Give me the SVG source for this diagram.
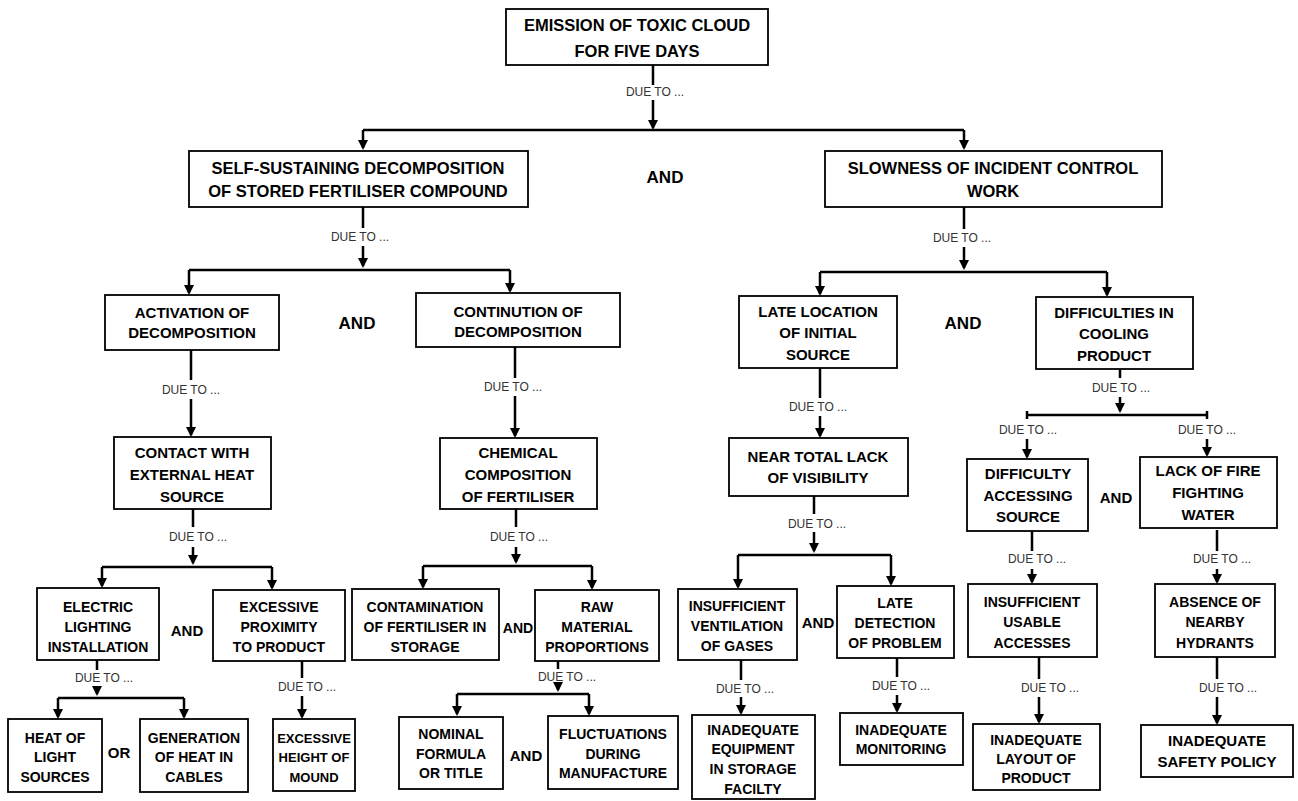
<svg xmlns="http://www.w3.org/2000/svg" width="1298" height="801" viewBox="0 0 1298 801">
<style>
.box rect{fill:#fff;stroke:#000;stroke-width:1.8}
.box text{font-family:"Liberation Sans",Arial,sans-serif;font-weight:bold;fill:#000;text-anchor:middle}
.f16{font-size:16.5px}
.f15{font-size:15px}
.f14{font-size:14px}
.f13{font-size:13px}
.conn path{fill:none;stroke:#000;stroke-width:2.5}
.conn path.arr{marker-end:url(#ah)}
.due{font-family:"Liberation Sans",Arial,sans-serif;font-size:12px;fill:#333;text-anchor:middle}
.and{font-family:"Liberation Sans",Arial,sans-serif;font-weight:bold;font-size:15px;fill:#000;text-anchor:middle}
</style>
<defs>
<marker id="ah" viewBox="0 0 10 10" refX="8" refY="5" markerWidth="10" markerHeight="10" markerUnits="userSpaceOnUse" orient="auto">
<path d="M0,0 L10,5 L0,10 z" fill="#000"/>
</marker>
</defs>
<rect width="1298" height="801" fill="#fff"/>

<g class="conn" id="connectors">
<path class="arr" d="M653,65 V85 M653,100 V128"/>
<path d="M363,130 H964"/>
<path class="arr" d="M363,130 V148"/>
<path class="arr" d="M964,130 V148"/>

<path class="arr" d="M363,207 V228 M363,246 V266"/>
<path d="M189,270 H510"/>
<path class="arr" d="M189,270 V293"/>
<path class="arr" d="M510,270 V291"/>

<path class="arr" d="M964,207 V229 M964,247 V268"/>
<path d="M820,272 H1107"/>
<path class="arr" d="M820,272 V294"/>
<path class="arr" d="M1107,272 V295"/>

<path class="arr" d="M191,350 V380 M191,399 V435"/>
<path class="arr" d="M193,509 V527 M193,547 V563"/>
<path d="M102,567 H272"/>
<path class="arr" d="M102,567 V586"/>
<path class="arr" d="M272,567 V588"/>

<path class="arr" d="M515,347 V378 M515,396 V436"/>
<path class="arr" d="M516,509 V527 M516,547 V562"/>
<path d="M423,566 H592"/>
<path class="arr" d="M423,566 V587"/>
<path class="arr" d="M592,566 V588"/>

<path class="arr" d="M820,368 V398 M820,416 V436"/>
<path class="arr" d="M814,496 V514 M814,532 V551"/>
<path d="M738,555 H891"/>
<path class="arr" d="M738,555 V587"/>
<path class="arr" d="M891,555 V584"/>

<path class="arr" d="M1120,369 V378 M1120,397 V411"/>
<path d="M1027,415 H1207 M1027,411 V419 M1207,411 V419"/>
<path class="arr" d="M1027,439 V457"/>
<path class="arr" d="M1207,439 V455"/>

<path class="arr" d="M1032,531 V551 M1032,569 V582"/>
<path class="arr" d="M1217,530 V551 M1217,569 V582"/>

<path class="arr" d="M97,660 V670 M97,687 V694"/>
<path d="M58,698 H184"/>
<path class="arr" d="M58,698 V717"/>
<path class="arr" d="M184,698 V717"/>

<path class="arr" d="M302,661 V678 M302,696 V717"/>

<path class="arr" d="M558,661 V669 M558,686 V690"/>
<path d="M457,694 H589"/>
<path class="arr" d="M457,694 V714"/>
<path class="arr" d="M589,694 V714"/>

<path class="arr" d="M741,660 V680 M741,697 V713"/>
<path class="arr" d="M897,658 V677 M897,695 V711"/>
<path class="arr" d="M1039,657 V679 M1039,697 V722"/>
<path class="arr" d="M1217,657 V679 M1217,697 V723"/>

<text class="due" x="655" y="96">DUE TO ...</text>
<text class="due" x="360" y="241">DUE TO ...</text>
<text class="due" x="962" y="242">DUE TO ...</text>
<text class="due" x="191" y="394">DUE TO ...</text>
<text class="due" x="198" y="541">DUE TO ...</text>
<text class="due" x="513" y="391">DUE TO ...</text>
<text class="due" x="519" y="541">DUE TO ...</text>
<text class="due" x="818" y="411">DUE TO ...</text>
<text class="due" x="817" y="528">DUE TO ...</text>
<text class="due" x="1121" y="392">DUE TO ...</text>
<text class="due" x="1028" y="434">DUE TO ...</text>
<text class="due" x="1207" y="434">DUE TO ...</text>
<text class="due" x="1037" y="563">DUE TO ...</text>
<text class="due" x="1222" y="563">DUE TO ...</text>
<text class="due" x="104" y="682">DUE TO ...</text>
<text class="due" x="307" y="691">DUE TO ...</text>
<text class="due" x="567" y="681">DUE TO ...</text>
<text class="due" x="745" y="693">DUE TO ...</text>
<text class="due" x="901" y="690">DUE TO ...</text>
<text class="due" x="1050" y="692">DUE TO ...</text>
<text class="due" x="1228" y="692">DUE TO ...</text>

<text class="and" x="665" y="183" style="font-size:17px">AND</text>
<text class="and" x="357" y="329" style="font-size:17px">AND</text>
<text class="and" x="963" y="329" style="font-size:17px">AND</text>
<text class="and" x="1116" y="503">AND</text>
<text class="and" x="187" y="636">AND</text>
<text class="and" x="119" y="758">OR</text>
<text class="and" x="518" y="633" style="font-size:14px">AND</text>
<text class="and" x="526" y="761">AND</text>
<text class="and" x="818" y="628">AND</text>
</g>

<g class="box" id="n-emission">
<rect x="506" y="9" width="262" height="56"/>
<text class="f16"><tspan x="637" y="31">EMISSION OF TOXIC CLOUD</tspan><tspan x="637" y="57">FOR FIVE DAYS</tspan></text>
</g>
<g class="box" id="n-selfsustaining">
<rect x="189" y="151" width="339" height="56"/>
<text class="f16"><tspan x="358" y="174">SELF-SUSTAINING DECOMPOSITION</tspan><tspan x="358" y="197">OF STORED FERTILISER COMPOUND</tspan></text>
</g>
<g class="box" id="n-slowness">
<rect x="825" y="151" width="337" height="56"/>
<text class="f16"><tspan x="993" y="174">SLOWNESS OF INCIDENT CONTROL</tspan><tspan x="993" y="197">WORK</tspan></text>
</g>
<g class="box" id="n-activation">
<rect x="105" y="295" width="174" height="55"/>
<text class="f15"><tspan x="192" y="318">ACTIVATION OF</tspan><tspan x="192" y="338">DECOMPOSITION</tspan></text>
</g>
<g class="box" id="n-continution">
<rect x="416" y="293" width="204" height="54"/>
<text class="f15"><tspan x="518" y="317">CONTINUTION OF</tspan><tspan x="518" y="337">DECOMPOSITION</tspan></text>
</g>
<g class="box" id="n-latelocation">
<rect x="739" y="296" width="158" height="72"/>
<text class="f15"><tspan x="818" y="317">LATE LOCATION</tspan><tspan x="818" y="338">OF INITIAL</tspan><tspan x="818" y="360">SOURCE</tspan></text>
</g>
<g class="box" id="n-difficulties">
<rect x="1036" y="297" width="157" height="72"/>
<text class="f15"><tspan x="1114" y="318">DIFFICULTIES IN</tspan><tspan x="1114" y="339">COOLING</tspan><tspan x="1114" y="361">PRODUCT</tspan></text>
</g>
<g class="box" id="n-contact">
<rect x="114" y="437" width="157" height="72"/>
<text class="f15"><tspan x="192" y="458">CONTACT WITH</tspan><tspan x="192" y="480">EXTERNAL HEAT</tspan><tspan x="192" y="502">SOURCE</tspan></text>
</g>
<g class="box" id="n-chemical">
<rect x="440" y="438" width="157" height="71"/>
<text class="f15"><tspan x="518" y="458">CHEMICAL</tspan><tspan x="518" y="480">COMPOSITION</tspan><tspan x="518" y="502">OF FERTILISER</tspan></text>
</g>
<g class="box" id="n-neartotal">
<rect x="729" y="438" width="179" height="58"/>
<text class="f15"><tspan x="818" y="462">NEAR TOTAL LACK</tspan><tspan x="818" y="483">OF VISIBILITY</tspan></text>
</g>
<g class="box" id="n-difficultyaccess">
<rect x="967" y="459" width="121" height="72"/>
<text class="f15"><tspan x="1028" y="479">DIFFICULTY</tspan><tspan x="1028" y="501">ACCESSING</tspan><tspan x="1028" y="522">SOURCE</tspan></text>
</g>
<g class="box" id="n-lackwater">
<rect x="1140" y="457" width="137" height="71"/>
<text class="f15"><tspan x="1208" y="476">LACK OF FIRE</tspan><tspan x="1208" y="498">FIGHTING</tspan><tspan x="1208" y="520">WATER</tspan></text>
</g>
<g class="box" id="n-electric">
<rect x="37" y="588" width="122" height="72"/>
<text class="f14"><tspan x="98" y="612">ELECTRIC</tspan><tspan x="98" y="632">LIGHTING</tspan><tspan x="98" y="652">INSTALLATION</tspan></text>
</g>
<g class="box" id="n-proximity">
<rect x="213" y="590" width="132" height="71"/>
<text class="f14"><tspan x="279" y="612">EXCESSIVE</tspan><tspan x="279" y="632">PROXIMITY</tspan><tspan x="279" y="652">TO PRODUCT</tspan></text>
</g>
<g class="box" id="n-contamination">
<rect x="352" y="589" width="147" height="71"/>
<text class="f14"><tspan x="425" y="612">CONTAMINATION</tspan><tspan x="425" y="632">OF FERTILISER IN</tspan><tspan x="425" y="652">STORAGE</tspan></text>
</g>
<g class="box" id="n-raw">
<rect x="535" y="590" width="124" height="71"/>
<text class="f14"><tspan x="597" y="612">RAW</tspan><tspan x="597" y="632">MATERIAL</tspan><tspan x="597" y="652">PROPORTIONS</tspan></text>
</g>
<g class="box" id="n-ventilation">
<rect x="678" y="589" width="119" height="71"/>
<text class="f14"><tspan x="737" y="611">INSUFFICIENT</tspan><tspan x="737" y="631">VENTILATION</tspan><tspan x="737" y="651">OF GASES</tspan></text>
</g>
<g class="box" id="n-latedetection">
<rect x="837" y="586" width="117" height="72"/>
<text class="f14"><tspan x="895" y="608">LATE</tspan><tspan x="895" y="628">DETECTION</tspan><tspan x="895" y="648">OF PROBLEM</tspan></text>
</g>
<g class="box" id="n-accesses">
<rect x="968" y="584" width="129" height="73"/>
<text class="f14"><tspan x="1032" y="607">INSUFFICIENT</tspan><tspan x="1032" y="627">USABLE</tspan><tspan x="1032" y="648">ACCESSES</tspan></text>
</g>
<g class="box" id="n-hydrants">
<rect x="1155" y="584" width="120" height="73"/>
<text class="f14"><tspan x="1215" y="607">ABSENCE OF</tspan><tspan x="1215" y="627">NEARBY</tspan><tspan x="1215" y="648">HYDRANTS</tspan></text>
</g>
<g class="box" id="n-heatlight">
<rect x="8" y="719" width="94" height="73"/>
<text class="f14"><tspan x="55" y="743">HEAT OF</tspan><tspan x="55" y="762">LIGHT</tspan><tspan x="55" y="782">SOURCES</tspan></text>
</g>
<g class="box" id="n-cables">
<rect x="140" y="719" width="108" height="73"/>
<text class="f14"><tspan x="194" y="743">GENERATION</tspan><tspan x="194" y="762">OF HEAT IN</tspan><tspan x="194" y="782">CABLES</tspan></text>
</g>
<g class="box" id="n-mound">
<rect x="273" y="719" width="82" height="72"/>
<text class="f13"><tspan x="314" y="743">EXCESSIVE</tspan><tspan x="314" y="762">HEIGHT OF</tspan><tspan x="314" y="782">MOUND</tspan></text>
</g>
<g class="box" id="n-nominal">
<rect x="399" y="717" width="104" height="72"/>
<text class="f14"><tspan x="451" y="739">NOMINAL</tspan><tspan x="451" y="759">FORMULA</tspan><tspan x="451" y="778">OR TITLE</tspan></text>
</g>
<g class="box" id="n-fluctuations">
<rect x="548" y="716" width="130" height="73"/>
<text class="f14"><tspan x="613" y="739">FLUCTUATIONS</tspan><tspan x="613" y="759">DURING</tspan><tspan x="613" y="778">MANUFACTURE</tspan></text>
</g>
<g class="box" id="n-equipment">
<rect x="692" y="715" width="123" height="84"/>
<text class="f14"><tspan x="753" y="735">INADEQUATE</tspan><tspan x="753" y="754">EQUIPMENT</tspan><tspan x="753" y="774">IN STORAGE</tspan><tspan x="753" y="794">FACILTY</tspan></text>
</g>
<g class="box" id="n-monitoring">
<rect x="840" y="713" width="123" height="52"/>
<text class="f14"><tspan x="901" y="735">INADEQUATE</tspan><tspan x="901" y="754">MONITORING</tspan></text>
</g>
<g class="box" id="n-layout">
<rect x="973" y="724" width="127" height="66"/>
<text class="f14"><tspan x="1036" y="745">INADEQUATE</tspan><tspan x="1036" y="764">LAYOUT OF</tspan><tspan x="1036" y="783">PRODUCT</tspan></text>
</g>
<g class="box" id="n-safety">
<rect x="1141" y="725" width="152" height="52"/>
<text class="f15"><tspan x="1217" y="746">INADEQUATE</tspan><tspan x="1217" y="767">SAFETY POLICY</tspan></text>
</g>
</svg>
